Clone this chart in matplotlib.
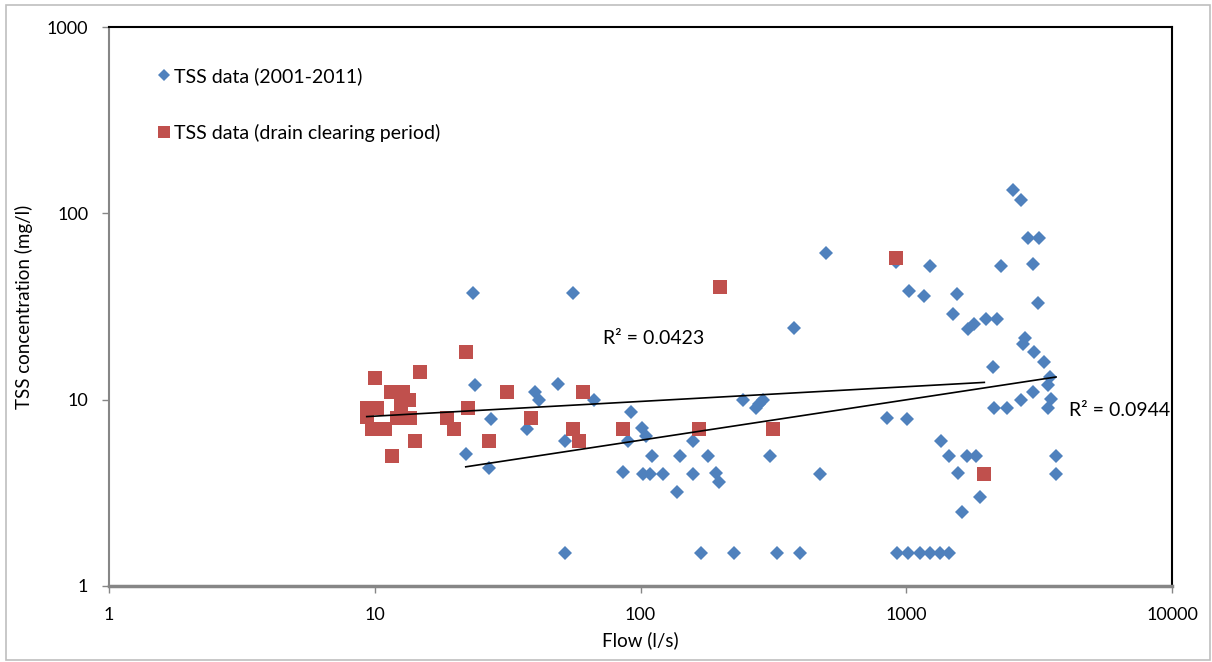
import numpy as np
import matplotlib.pyplot as plt
from matplotlib.patches import Rectangle

# TSS data 2001-2011 (flow l/s, TSS mg/l)
blue_flow = [23.5, 55.5, 23.8, 27.4, 22.0, 27.0, 40.1, 41.5, 49.1, 37.4, 52, 52, 67,
             92, 101, 90, 86, 102, 105, 110, 109, 122, 137, 141, 157, 157, 180, 193,
             198, 169, 225, 244, 290, 280, 273, 307, 327, 379, 400, 473, 499, 848,
             915, 925, 1004, 1012, 1028, 1127, 1170, 1228, 1228, 1339, 1348, 1449,
             1452, 1503, 1557, 1560, 1622, 1698, 1713, 1804, 1830, 1892, 1995, 2126,
             2145, 2189, 2276, 2387, 2529, 2694, 2694, 2757, 2797, 2863, 3008, 3008,
             3034, 3120, 3168, 3297, 3427, 3427, 3475, 3490, 3650, 3660]
blue_tss = [37.2, 37.2, 12.0, 7.85, 5.09, 4.31, 11.0, 9.96, 12.1, 6.96, 6.0, 1.5, 10,
            8.55, 7.02, 6.0, 4.1, 4.0, 6.4, 5.0, 4.0, 4.0, 3.2, 5.0, 6.0, 4.0, 5.0, 4.06,
            3.6, 1.5, 1.5, 10, 10, 9.5, 9.0, 5.0, 1.5, 24.1, 1.5, 4.0, 61, 8.0,
            55, 1.5, 7.85, 1.5, 38.4, 1.5, 36, 52, 1.5, 1.5, 6.0, 5.0,
            1.5, 29, 36.9, 4.03, 2.49, 5.0, 23.9, 25.4, 5.0, 3.0, 27.1, 15,
            9.0, 27.1, 52, 9.0, 133, 118, 10, 20, 21.3, 73.5, 53.2, 11.0,
            18.1, 33.1, 74, 16, 12, 9.0, 13.3, 10.1, 5.0, 4.0]

# TSS data, drain clearing period
red_flow = [22, 10.0, 14.8, 11.5, 12.8, 13.4, 12.6, 31.4, 61, 22.5, 9.33, 10.2, 9.33,
            12.1, 13.6, 18.7, 38.7, 9.8, 10.9, 19.8, 55.5, 86, 14.2, 26.8, 58.8, 11.6,
            200, 166, 316, 915, 1967]
red_tss = [18.1, 13.0, 14.0, 11.0, 11.0, 10, 9.2, 11.0, 11.0, 9.0, 9.0, 9.0, 8.1,
           8.0, 8.0, 8.0, 8.0, 7.0, 7.0, 7.0, 7.0, 7.0, 6.0, 6.0, 6.0, 5.0,
           40.1, 7.0, 7.0, 57.4, 4.0]

# power trendlines y = a * x^b
red_fit = (6.80, 0.079)
blue_fit = (2.23, 0.217)
red_r2 = 0.0423
blue_r2 = 0.0944

blue_c = '#4F81BD'
red_c = '#C0504D'
plt.rcParams['font.family'] = ['Lato', 'DejaVu Sans']

fig = plt.figure(figsize=(12.12, 6.62), dpi=100)
fig.patches.append(Rectangle((0.005, 0.003), 0.993, 0.99, transform=fig.transFigure,
                             fill=False, edgecolor='#BFBFBF', linewidth=1.2))
ax = fig.add_axes([109/1212, 1 - 586/662, 1063/1212, 559/662])

ax.plot(blue_flow, blue_tss, 'D', color=blue_c, markersize=7.6, markeredgewidth=0,
        label='TSS data (2001-2011)', zorder=3)
ax.plot(red_flow, red_tss, 's', color=red_c, markersize=10, markeredgewidth=0,
        label='TSS data (drain clearing period)', zorder=3)

xr = np.array([min(red_flow), max(red_flow)])
ax.plot(xr, red_fit[0] * xr ** red_fit[1], color='black', linewidth=1.2, zorder=4)
xb = np.array([min(blue_flow), max(blue_flow)])
ax.plot(xb, blue_fit[0] * xb ** blue_fit[1], color='black', linewidth=1.2, zorder=4)

ax.text(72, 21.4, 'R² = %.4f' % red_r2, fontsize=14, va='center', ha='left')
ax.text(4080, 8.8, 'R² = %.4f' % blue_r2, fontsize=14, va='center', ha='left')

ax.set_xscale('log')
ax.set_yscale('log')
ax.set_xlim(1, 10000)
ax.set_ylim(1, 1000)
ax.set_xticks([1, 10, 100, 1000, 10000])
ax.set_xticklabels(['1', '10', '100', '1000', '10000'])
ax.set_yticks([1, 10, 100, 1000])
ax.set_yticklabels(['1', '10', '100', '1000'])
ax.minorticks_off()
ax.tick_params(axis='both', which='major', length=5, width=1, color='#868686',
               labelsize=13, direction='out', pad=10)

for s in ['left', 'bottom']:
    ax.spines[s].set_color('#868686')
ax.spines['left'].set_linewidth(1.5)
ax.spines['bottom'].set_linewidth(2.5)
for s in ['top', 'right']:
    ax.spines[s].set_color('black')
    ax.spines[s].set_linewidth(1.5)

ax.set_xlabel('Flow (l/s)', fontsize=13.5, labelpad=6)
ax.set_ylabel('TSS concentration (mg/l)', fontsize=13.5, labelpad=10)

leg = ax.legend(loc='upper left', bbox_to_anchor=(0.025, 0.96), frameon=False,
                fontsize=14, labelspacing=2.0, handletextpad=0.0, handlelength=1.1,
                markerscale=0.85)

fig.savefig('out.png', dpi=100)
